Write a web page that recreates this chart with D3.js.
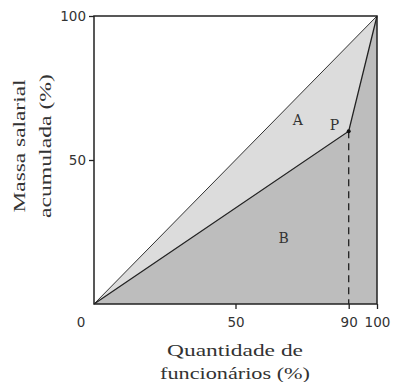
<!DOCTYPE html>
<html>
<head>
<meta charset="utf-8">
<script src="https://cdn.jsdelivr.net/npm/d3@7"></script>
<style>
  body { margin: 0; background: #fff; }
  svg text { fill: #333; }
</style>
</head>
<body>
<svg id="chart" width="394" height="382"></svg>
<script>
// Lorenz-style curve: cumulative % of employees vs cumulative % of payroll
const curveX = [0, 90, 100];
const curveY = [0, 60, 100];
const xTicks = [50, 90, 100];
const yTicks = [50, 100];
const regionLabels = ["A", "B", "P"];
const regionPos = [[72, 64], [67, 23], [85, 62]];

const svg = d3.select("#chart");
const x = d3.scaleLinear().domain([0, 100]).range([94, 377]);
const y = d3.scaleLinear().domain([0, 100]).range([304, 16]);

const curve = curveX.map((v, i) => [v, curveY[i]]);
const line = d3.line().x(d => x(d[0])).y(d => y(d[1]));

// region A (between equality line and curve)
svg.append("path")
	.attr("d", line([[0, 0], [100, 100]].concat(curve.slice().reverse())) + "Z")
	.attr("fill", "#dcdcdc");

// region B (below the curve)
svg.append("path")
	.attr("d", line(curve.concat([[100, 0]])) + "Z")
	.attr("fill", "#bdbdbd");

// equality line
svg.append("path")
	.attr("d", line([[0, 0], [100, 100]]))
	.attr("stroke", "#333").attr("stroke-width", 1).attr("fill", "none");

// curve
svg.append("path")
	.attr("d", line(curve))
	.attr("stroke", "#222").attr("stroke-width", 1.3).attr("fill", "none");

// dashed drop from P
svg.append("line")
	.attr("x1", x(curveX[1])).attr("x2", x(curveX[1]))
	.attr("y1", y(curveY[1])).attr("y2", y(0))
	.attr("stroke", "#222").attr("stroke-width", 1.3)
	.attr("stroke-dasharray", "7,5");

svg.append("circle")
	.attr("cx", x(curveX[1])).attr("cy", y(curveY[1]))
	.attr("r", 2).attr("fill", "#111");

// frame
svg.append("rect")
	.attr("x", x(0)).attr("y", y(100))
	.attr("width", x(100) - x(0)).attr("height", y(0) - y(100))
	.attr("fill", "none").attr("stroke", "#222").attr("stroke-width", 1.5);

// axes
const xAxis = svg.append("g")
	.attr("transform", `translate(0,${y(0)})`)
	.call(d3.axisBottom(x).tickValues(xTicks).tickSize(5).tickPadding(8));
const yAxis = svg.append("g")
	.attr("transform", `translate(${x(0)},0)`)
	.call(d3.axisLeft(y).tickValues(yTicks).tickSize(5).tickPadding(3));
[xAxis, yAxis].forEach(g => {
	g.select(".domain").remove();
	g.selectAll(".tick line").attr("stroke", "#222").attr("stroke-width", 1.3);
	g.selectAll(".tick text")
		.attr("font-family", "DejaVu Sans, sans-serif")
		.attr("font-size", 13.5).attr("fill", "#333");
});
xAxis.selectAll(".tick text").attr("dy", "0.35em").attr("y", 18);

svg.append("text")
	.attr("x", 81).attr("y", 322).attr("dy", "0.35em")
	.attr("text-anchor", "middle")
	.attr("font-family", "DejaVu Sans, sans-serif").attr("font-size", 13.5)
	.text("0");

// region labels
const labelFont = "DejaVu Serif, serif";
regionLabels.forEach((t, i) => {
	svg.append("text")
		.attr("x", x(regionPos[i][0])).attr("y", y(regionPos[i][1]))
		.attr("dy", "0.35em").attr("text-anchor", "middle")
		.attr("font-family", labelFont).attr("font-size", 14)
		.text(t);
});

// axis titles
const titleFont = "Liberation Serif, serif";
const xTitle = [["Quantidade de", 136], ["funcionários (%)", 150]];
xTitle.forEach((t, i) => {
	svg.append("text")
		.attr("x", 235).attr("y", 350 + i * 23).attr("dy", "0.35em")
		.attr("text-anchor", "middle")
		.attr("font-family", titleFont).attr("font-size", 17)
		.attr("textLength", t[1]).attr("lengthAdjust", "spacingAndGlyphs")
		.text(t[0]);
});

const yTitle = [["Massa salarial", 133], ["acumulada (%)", 144]];
yTitle.forEach((t, i) => {
	svg.append("text")
		.attr("transform", `translate(${19 + i * 26},146) rotate(-90)`)
		.attr("dy", "0.35em").attr("text-anchor", "middle")
		.attr("font-family", titleFont).attr("font-size", 17)
		.attr("textLength", t[1]).attr("lengthAdjust", "spacingAndGlyphs")
		.text(t[0]);
});
</script>
</body>
</html>
